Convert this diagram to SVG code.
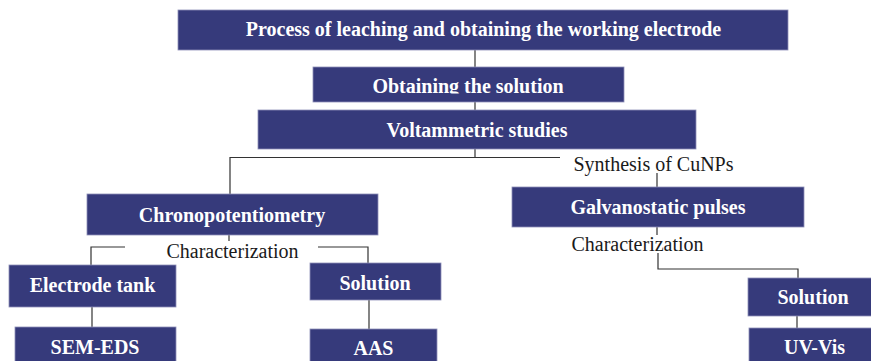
<svg xmlns="http://www.w3.org/2000/svg" width="871" height="361" viewBox="0 0 871 361">
<style>
.box{fill:#363A7B;stroke:#8E90B8;stroke-width:0.8}
.bt{font-family:"Liberation Serif","Times New Roman",serif;font-weight:bold;font-size:20px;fill:#FFFFFF;text-anchor:middle}
.lt{font-family:"Liberation Serif","Times New Roman",serif;font-size:20px;fill:#1A1A1A;text-anchor:middle}
.ln{fill:none;stroke:#333333;stroke-width:1.2}
</style>
<defs>
<clipPath id="clip2"><rect x="313" y="67" width="311" height="26.5"/></clipPath>
</defs>
<g id="connectors">
<path class="ln" d="M475,50V67"/>
<path class="ln" d="M475,102V110"/>
<path class="ln" d="M475,149V157.5"/>
<path class="ln" d="M560,157.5H230V194"/>
<path class="ln" d="M657,173V187"/>
<path class="ln" d="M229,235V241"/>
<path class="ln" d="M125,247H91V265"/>
<path class="ln" d="M318,247H368V263"/>
<path class="ln" d="M92,307V327"/>
<path class="ln" d="M369,300V329"/>
<path class="ln" d="M657,227V235"/>
<path class="ln" d="M658,253V269H798V278"/>
<path class="ln" d="M797,316V328"/>
</g>
<g id="n-process">
<rect class="box" x="178" y="10" width="610" height="40"/>
<text class="bt" x="483.5" y="36">Process of leaching and obtaining the working electrode</text>
</g>
<g id="n-obtaining">
<rect class="box" x="313" y="67" width="311" height="35"/>
<text class="bt" x="468" y="93" clip-path="url(#clip2)">Obtaining the solution</text>
</g>
<g id="n-voltammetric">
<rect class="box" x="258" y="110" width="438" height="39"/>
<text class="bt" x="477" y="137">Voltammetric studies</text>
</g>
<g id="l-synthesis">
<text class="lt" x="653.5" y="170.5">Synthesis of CuNPs</text>
</g>
<g id="n-chrono">
<rect class="box" x="87" y="194" width="291" height="41"/>
<text class="bt" x="232" y="222">Chronopotentiometry</text>
</g>
<g id="l-char-left">
<text class="lt" x="232.5" y="257.5">Characterization</text>
</g>
<g id="n-electrode">
<rect class="box" x="9" y="265" width="167" height="42"/>
<text class="bt" x="92.5" y="291.5">Electrode tank</text>
</g>
<g id="n-sem">
<rect class="box" x="15" y="327" width="161" height="40"/>
<text class="bt" x="95" y="354">SEM-EDS</text>
</g>
<g id="n-solution-left">
<rect class="box" x="310" y="263" width="131" height="37"/>
<text class="bt" x="375" y="290">Solution</text>
</g>
<g id="n-aas">
<rect class="box" x="310" y="329" width="127" height="40"/>
<text class="bt" x="373.5" y="355">AAS</text>
</g>
<g id="n-galvanostatic">
<rect class="box" x="512" y="187" width="292" height="40"/>
<text class="bt" x="658" y="214">Galvanostatic pulses</text>
</g>
<g id="l-char-right">
<text class="lt" x="637.5" y="250.5">Characterization</text>
</g>
<g id="n-solution-right">
<rect class="box" x="748" y="278" width="125" height="38"/>
<text class="bt" x="813" y="304">Solution</text>
</g>
<g id="n-uvvis">
<rect class="box" x="749" y="328" width="124" height="40"/>
<text class="bt" x="814.5" y="354">UV-Vis</text>
</g>
</svg>
